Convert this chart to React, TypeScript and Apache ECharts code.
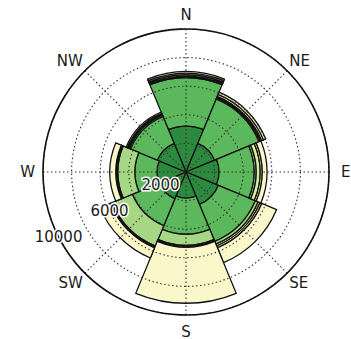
import React, { useEffect, useRef } from 'react';
import * as echarts from 'echarts';

// Wind directions, clockwise from north
const directions = ['N', 'NE', 'E', 'SE', 'S', 'SW', 'W', 'NW'];
const compassAngles = [0, 45, 90, 135, 180, 225, 270, 315];
// rich-text style key per direction label
const labelStyleKeys = ['n', 'd', 'e', 'd', 's', 'd', 'w', 'd'];

// Speed classes (stacked from the centre outwards)
const speedBins = ['0-2', '2-4', '4-6', '6-8', '8-10', '10+'];
const bin0 = [3220, 2170, 2310, 2450, 1820, 2030, 2030, 2170];
const bin1 = [3390, 3360, 2450, 2800, 2520, 2030, 1540, 2030];
const bin2 = [100, 100, 140, 210, 770, 1540, 1190, 100];
const bin3 = [100, 100, 280, 140, 70, 70, 70, 70];
const bin4 = [100, 140, 140, 140, 70, 70, 70, 70];
const bin5 = [120, 170, 350, 1120, 3930, 770, 420, 100];
const binColors = ['#2b8a3e', '#5cb85c', '#a6d785', '#d4ec9f', '#eef5bb', '#faf8cb'];

// Radial scale
const radialMax = 10000;
const radialStep = 2000;
const radialLabels = [2000, 6000, 10000];

const CENTER = [186, 172];
const RADIUS = 143;
const FONT = 'DejaVu Sans';

export default function App() {
  const ref = useRef<HTMLDivElement>(null);

  useEffect(() => {
    if (!ref.current) return;
    const chart = echarts.init(ref.current, undefined, { renderer: 'svg' });
    const bins = [bin0, bin1, bin2, bin3, bin4, bin5];
    const dotted = { type: [1.5, 2.5] as number[], color: '#3a3030', width: 1.1 };
    const dirText = { fontSize: 15, fontFamily: FONT, color: '#1a1a1a' };

    chart.setOption({
      animation: false,
      backgroundColor: '#ffffff',
      textStyle: { fontFamily: FONT },
      polar: [
        { center: CENTER, radius: RADIUS },
        { center: CENTER, radius: RADIUS },
        { center: CENTER, radius: RADIUS },
      ],
      angleAxis: [
        {
          polarIndex: 0,
          type: 'category',
          data: directions,
          startAngle: 112.5,
          clockwise: true,
          show: false,
        },
        {
          polarIndex: 1,
          type: 'value',
          min: 0,
          max: 360,
          interval: 45,
          startAngle: 90,
          clockwise: true,
          z: 5,
          axisLine: { lineStyle: { color: '#111', width: 1.6 } },
          axisTick: { show: false },
          axisLabel: {
            margin: 3,
            ...dirText,
            formatter: (v: number) => {
              const i = compassAngles.indexOf(v);
              return i >= 0 ? `{${labelStyleKeys[i]}|${directions[i]}}` : '';
            },
            rich: {
              n: { ...dirText, padding: [0, 0, 4, 0] },
              s: { ...dirText, padding: [6, 0, 0, 0] },
              e: { ...dirText, padding: [0, 0, 0, 9] },
              w: { ...dirText, padding: [0, 5, 0, 0] },
              d: { ...dirText },
            },
          },
          splitLine: { show: true, lineStyle: dotted },
        },
        {
          polarIndex: 2,
          type: 'value',
          min: 0,
          max: 360,
          startAngle: 207,
          show: false,
        },
      ],
      radiusAxis: [
        { polarIndex: 0, min: 0, max: radialMax, show: false },
        {
          polarIndex: 1,
          min: 0,
          max: radialMax,
          interval: radialStep,
          z: 5,
          axisLine: { show: false },
          axisTick: { show: false },
          axisLabel: { show: false },
          splitLine: { show: true, lineStyle: dotted },
        },
        {
          polarIndex: 2,
          min: 0,
          max: radialMax,
          interval: radialStep,
          z: 6,
          axisLine: { show: false },
          axisTick: { show: false },
          splitLine: { show: false },
          axisLabel: {
            margin: 0,
            align: 'center',
            verticalAlign: 'middle',
            fontSize: 15,
            fontFamily: FONT,
            color: '#1a1a1a',
            textBorderColor: '#ffffff',
            textBorderWidth: 3,
            formatter: (v: number) => (radialLabels.includes(v) ? String(v) : ''),
          },
        },
      ],
      series: bins.map((vals, i) => ({
        type: 'bar',
        name: speedBins[i],
        coordinateSystem: 'polar',
        polarIndex: 0,
        stack: 'wind',
        data: vals,
        barCategoryGap: '0%',
        z: 2,
        itemStyle: { color: binColors[i], borderColor: '#111', borderWidth: 1.3 },
      })),
    });

    return () => chart.dispose();
  }, []);

  return (
    <div
      ref={ref}
      style={{ position: 'fixed', left: 0, top: 0, width: 351, height: 339, background: '#fff' }}
    />
  );
}
